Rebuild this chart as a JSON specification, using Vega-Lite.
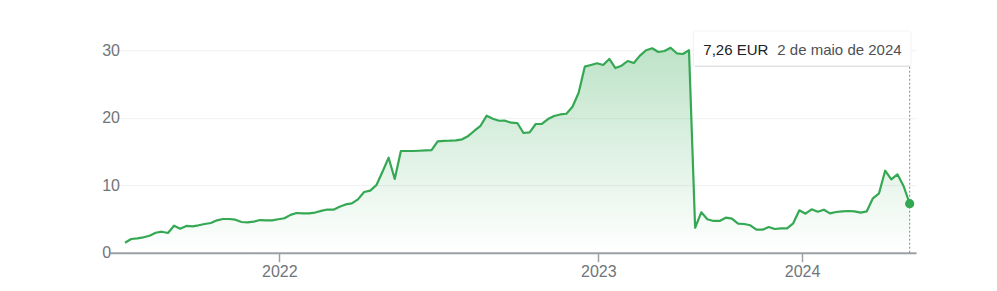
{
  "$schema": "https://vega.github.io/schema/vega-lite/v6.json",
  "width": 806,
  "height": 229.5,
  "autosize": {"type": "none"},
  "padding": {"left": 110, "top": 23.2, "right": 81, "bottom": 38.3},
  "background": "white",
  "config": {"view": {"stroke": null}, "font": "Liberation Sans, Arial, sans-serif"},
  "data": {"values": [
    {"i":0,"v":1.48},{"i":1,"v":2.03},{"i":2,"v":2.13},{"i":3,"v":2.28},{"i":4,"v":2.52},{"i":5,"v":2.96},{"i":6,"v":3.11},{"i":7,"v":2.92},{"i":8,"v":4.0},{"i":9,"v":3.56},
    {"i":10,"v":3.96},{"i":11,"v":3.91},{"i":12,"v":4.06},{"i":13,"v":4.25},{"i":14,"v":4.4},{"i":15,"v":4.8},{"i":16,"v":4.99},{"i":17,"v":4.99},{"i":18,"v":4.89},{"i":19,"v":4.55},
    {"i":20,"v":4.5},{"i":21,"v":4.59},{"i":22,"v":4.84},{"i":23,"v":4.8},{"i":24,"v":4.8},{"i":25,"v":4.95},{"i":26,"v":5.1},{"i":27,"v":5.6},{"i":28,"v":5.88},{"i":29,"v":5.83},
    {"i":30,"v":5.83},{"i":31,"v":5.95},{"i":32,"v":6.2},{"i":33,"v":6.4},{"i":34,"v":6.37},{"i":35,"v":6.8},{"i":36,"v":7.15},{"i":37,"v":7.3},{"i":38,"v":7.9},{"i":39,"v":9.0},
    {"i":40,"v":9.2},{"i":41,"v":10.0},{"i":42,"v":12.0},{"i":43,"v":14.07},{"i":44,"v":10.92},{"i":45,"v":15.07},{"i":46,"v":15.07},{"i":47,"v":15.07},{"i":48,"v":15.1},{"i":49,"v":15.15},
    {"i":50,"v":15.21},{"i":51,"v":16.5},{"i":52,"v":16.58},{"i":53,"v":16.6},{"i":54,"v":16.65},{"i":55,"v":16.8},{"i":56,"v":17.3},{"i":57,"v":18.07},{"i":58,"v":18.8},{"i":59,"v":20.3},
    {"i":60,"v":19.85},{"i":61,"v":19.55},{"i":62,"v":19.56},{"i":63,"v":19.26},{"i":64,"v":19.21},{"i":65,"v":17.73},{"i":66,"v":17.83},{"i":67,"v":19.07},{"i":68,"v":19.07},{"i":69,"v":19.8},
    {"i":70,"v":20.25},{"i":71,"v":20.48},{"i":72,"v":20.59},{"i":73,"v":21.63},{"i":74,"v":23.7},{"i":75,"v":27.56},{"i":76,"v":27.81},{"i":77,"v":28.06},{"i":78,"v":27.81},{"i":79,"v":28.7},
    {"i":80,"v":27.36},{"i":81,"v":27.7},{"i":82,"v":28.4},{"i":83,"v":28.1},{"i":84,"v":29.19},{"i":85,"v":30.0},{"i":86,"v":30.28},{"i":87,"v":29.73},{"i":88,"v":29.88},{"i":89,"v":30.37},
    {"i":90,"v":29.54},{"i":91,"v":29.44},{"i":92,"v":29.99},{"i":93,"v":3.7},{"i":94,"v":5.98},{"i":95,"v":4.95},{"i":96,"v":4.7},{"i":97,"v":4.7},{"i":98,"v":5.19},{"i":99,"v":5.04},
    {"i":100,"v":4.3},{"i":101,"v":4.25},{"i":102,"v":4.06},{"i":103,"v":3.41},{"i":104,"v":3.41},{"i":105,"v":3.81},{"i":106,"v":3.51},{"i":107,"v":3.61},{"i":108,"v":3.61},{"i":109,"v":4.35},
    {"i":110,"v":6.28},{"i":111,"v":5.78},{"i":112,"v":6.43},{"i":113,"v":6.07},{"i":114,"v":6.37},{"i":115,"v":5.83},{"i":116,"v":6.03},{"i":117,"v":6.13},{"i":118,"v":6.18},{"i":119,"v":6.13},
    {"i":120,"v":5.93},{"i":121,"v":6.13},{"i":122,"v":8.06},{"i":123,"v":8.8},{"i":124,"v":12.15},{"i":125,"v":10.87},{"i":126,"v":11.61},{"i":127,"v":9.88},
    {"i":128,"v":7.26,"price":"7,26 EUR","date":"2 de maio de 2024"}
  ]},
  "encoding": {
    "x": {"field": "i", "type": "quantitative",
      "scale": {"domain": [-2.45, 129.03], "nice": false, "zero": false},
      "axis": {"values": [25.17, 77.21, 110.44], "labelExpr": "datum.value < 50 ? '2022' : (datum.value < 100 ? '2023' : '2024')",
        "grid": false, "title": null, "domainColor": "#9aa0a6", "domainWidth": 2, "tickColor": "#9aa0a6", "tickSize": 9, "tickWidth": 1.5,
        "labelFontSize": 16, "labelColor": "#70757a", "labelPadding": 1.5, "labelFlush": false, "labelOverlap": false}},
    "y": {"field": "v", "type": "quantitative",
      "scale": {"domain": [0, 34], "nice": false},
      "axis": {"values": [0, 10, 20, 30], "title": null, "domain": false, "ticks": false, "labelAlign": "left", "labelPadding": 8.3,
        "labelFontSize": 16, "labelColor": "#70757a", "grid": true, "gridColor": "#f1f1f1", "gridWidth": 1}}
  },
  "layer": [
    {"mark": {"type": "area", "color": {"gradient": "linear", "x1": 0, "y1": 0, "x2": 0, "y2": 1,
      "stops": [{"offset": 0, "color": "rgba(52,168,83,0.32)"}, {"offset": 1, "color": "rgba(52,168,83,0)"}]}}},
    {"mark": {"type": "line", "color": "#34a853", "strokeWidth": 2.2, "strokeJoin": "round"}},
    {"transform": [{"filter": "datum.i == 128"}],
     "mark": {"type": "rule", "color": "#80868b", "strokeWidth": 1, "strokeDash": [2, 2]},
     "encoding": {"y": {"datum": 0}, "y2": {"datum": 27.7}}},
    {"transform": [{"filter": "datum.i == 128"}],
     "mark": {"type": "point", "filled": true, "color": "#34a853", "size": 85, "opacity": 1}},
    {"transform": [{"filter": "datum.i == 128"}],
     "mark": {"type": "rect", "fill": "#000000", "opacity": 0.13, "yOffset": 1.2, "y2Offset": 1.2, "cornerRadius": 3},
     "encoding": {"x": {"datum": 92.7}, "x2": {"datum": 128.2}, "y": {"datum": 32.84}, "y2": {"datum": 27.7}}},
    {"transform": [{"filter": "datum.i == 128"}],
     "mark": {"type": "rect", "fill": "#ffffff", "stroke": "#ececec", "strokeWidth": 0.6, "cornerRadius": 2, "opacity": 1},
     "encoding": {"x": {"datum": 92.7}, "x2": {"datum": 128.2}, "y": {"datum": 32.84}, "y2": {"datum": 27.7}}},
    {"transform": [{"filter": "datum.i == 128"}],
     "mark": {"type": "text", "align": "left", "baseline": "middle", "fontSize": 15, "color": "#202124"},
     "encoding": {"x": {"datum": 94.34}, "y": {"datum": 30.1}, "text": {"field": "price"}}},
    {"transform": [{"filter": "datum.i == 128"}],
     "mark": {"type": "text", "align": "left", "baseline": "middle", "fontSize": 15, "color": "#4d5156"},
     "encoding": {"x": {"datum": 106.41}, "y": {"datum": 30.1}, "text": {"field": "date"}}}
  ]
}
